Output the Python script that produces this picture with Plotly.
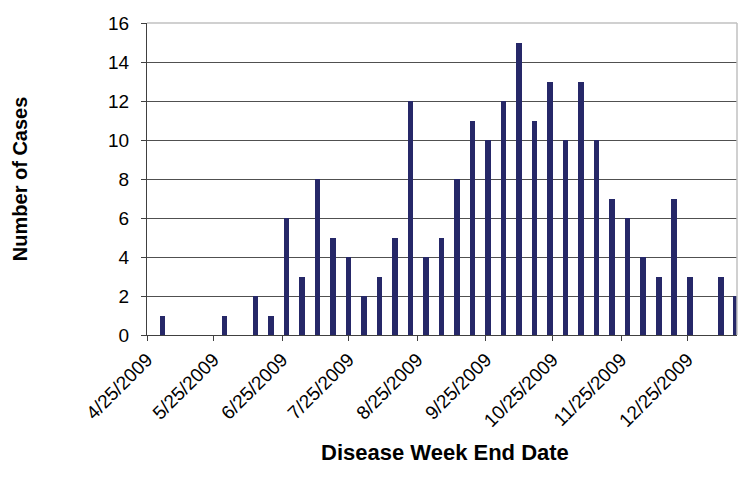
import plotly.graph_objects as go

week_end = ["2009-05-02", "2009-05-09", "2009-05-16", "2009-05-23", "2009-05-30",
            "2009-06-06", "2009-06-13", "2009-06-20", "2009-06-27", "2009-07-04",
            "2009-07-11", "2009-07-18", "2009-07-25", "2009-08-01", "2009-08-08",
            "2009-08-15", "2009-08-22", "2009-08-29", "2009-09-05", "2009-09-12",
            "2009-09-19", "2009-09-26", "2009-10-03", "2009-10-10", "2009-10-17",
            "2009-10-24", "2009-10-31", "2009-11-07", "2009-11-14", "2009-11-21",
            "2009-11-28", "2009-12-05", "2009-12-12", "2009-12-19", "2009-12-26",
            "2010-01-02", "2010-01-09", "2010-01-16"]
cases = [1, 0, 0, 0, 1,
         0, 2, 1, 6, 3,
         8, 5, 4, 2, 3,
         5, 12, 4, 5, 8,
         11, 10, 12, 15, 11,
         13, 10, 13, 10, 7,
         6, 4, 3, 7, 3,
         0, 3, 2]

tick_dates = ["2009-04-25", "2009-05-25", "2009-06-25", "2009-07-25", "2009-08-25",
              "2009-09-25", "2009-10-25", "2009-11-25", "2009-12-25"]
tick_labels = ["4/25/2009", "5/25/2009", "6/25/2009", "7/25/2009", "8/25/2009",
               "9/25/2009", "10/25/2009", "11/25/2009", "12/25/2009"]

FONT = "Liberation Sans, Arial, sans-serif"
BAR = "#262868"

fig = go.Figure()
fig.add_trace(go.Bar(
    x=week_end, y=cases,
    width=2.5 * 86400000,
    marker=dict(color=BAR, line=dict(width=0)),
))

fig.update_layout(
    width=739, height=483,
    margin=dict(l=147, r=2, t=23, b=148),
    paper_bgcolor="white", plot_bgcolor="white",
    showlegend=False,
    font=dict(family=FONT, color="black"),
    bargap=0,
)

fig.update_xaxes(
    type="date",
    range=["2009-04-25", "2010-01-16 08:00"],
    tickmode="array", tickvals=tick_dates, ticktext=tick_labels,
    tickangle=-45, tickfont=dict(size=19, family=FONT),
    ticks="outside", ticklen=5, tickcolor="#404040",
    showline=True, linecolor="#404040", linewidth=1,
    showgrid=False, zeroline=False,
)
fig.update_yaxes(
    range=[0, 16], dtick=2, tick0=0,
    tickfont=dict(size=19, family=FONT),
    ticks="outside", ticklen=5, tickcolor="#404040",
    ticklabelstandoff=8,
    showline=True, linecolor="#404040", linewidth=1,
    showgrid=True, gridcolor="#505050", gridwidth=1,
    zeroline=False,
)

# light gray plot-area border at top and right
fig.add_shape(type="line", xref="paper", yref="paper", x0=0, x1=1, y0=1, y1=1,
              line=dict(color="#c0c0c0", width=1.5))
fig.add_shape(type="line", xref="paper", yref="paper", x0=1, x1=1, y0=0, y1=1,
              line=dict(color="#c0c0c0", width=1.5))

fig.add_annotation(text="<b>Number of Cases</b>", xref="paper", yref="paper",
                   x=-0.215, y=0.5, xanchor="center", yanchor="middle",
                   textangle=-90, showarrow=False,
                   font=dict(size=20, family=FONT))
fig.add_annotation(text="<b>Disease Week End Date</b>", xref="paper", yref="paper",
                   x=0.505, y=-0.375, xanchor="center", yanchor="middle",
                   showarrow=False,
                   font=dict(size=22, family=FONT))

fig.write_html("out.html",
               config={"displayModeBar": False},
               post_script="document.body.style.margin='0';document.body.style.overflow='hidden';")
